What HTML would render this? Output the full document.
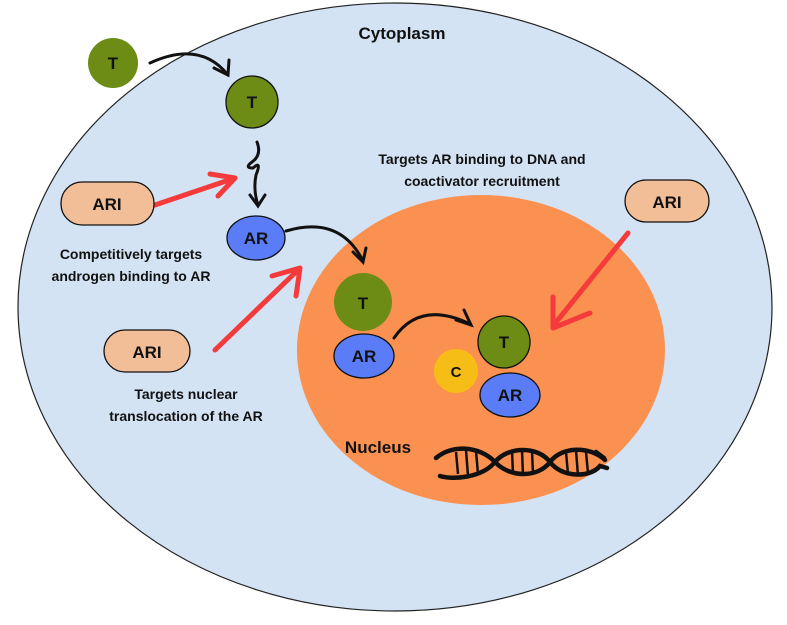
<!DOCTYPE html>
<html><head><style>body{margin:0;background:#fff}svg{display:block}text{font-family:"Liberation Sans",sans-serif;font-weight:bold;fill:#111}</style></head>
<body>
<svg width="787" height="625" viewBox="0 0 787 625">
<ellipse cx="395" cy="307" rx="377" ry="304" fill="#d3e3f3" stroke="#222" stroke-width="1.2"/>
<ellipse cx="481" cy="350" rx="184" ry="155" fill="#fb9150"/>
<text x="402" y="39" font-size="17" text-anchor="middle">Cytoplasm</text>
<text x="482" y="164" font-size="14" text-anchor="middle">Targets AR binding to DNA and</text>
<text x="482" y="186" font-size="14" text-anchor="middle">coactivator recruitment</text>
<text x="131" y="259" font-size="14" text-anchor="middle">Competitively targets</text>
<text x="131" y="281" font-size="14" text-anchor="middle">androgen binding to AR</text>
<text x="186" y="399" font-size="14" text-anchor="middle">Targets nuclear</text>
<text x="186" y="421" font-size="14" text-anchor="middle">translocation of the AR</text>
<text x="378" y="453" font-size="17" text-anchor="middle">Nucleus</text>
<g fill="none" stroke="#111" stroke-width="3" stroke-linecap="round">
<path d="M150 63 Q200 40 228 75"/><path d="M214 68 L228 75 L229 60"/>
<path d="M257 142 Q262 155 252 162 Q244 168 253 168 Q262 160 256 175 Q253 190 258 205"/><path d="M250 195 L258 206 L265 195"/>
<path d="M286 231 Q340 215 363 261"/><path d="M353 252 L363 262 L366 248"/>
<path d="M394 338 Q420 300 470 324"/><path d="M456 320 L471 325 L464 310"/>
</g>
<g fill="none" stroke="#f43a3a" stroke-width="5" stroke-linecap="round" stroke-linejoin="round">
<path d="M155 205 L235 178"/><path d="M210 174 L235 178 L218 196"/>
<path d="M215 350 L298 270"/><path d="M272 276 L300 268 L296 296"/>
<path d="M628 233 L553 326"/><path d="M553 297 L553 328 L590 313"/>
</g>
<g stroke="#111" stroke-width="1.3">
<circle cx="113" cy="63" r="25" fill="#6c8c16" stroke="none"/>
<circle cx="252" cy="102" r="26" fill="#6c8c16"/>
<ellipse cx="256" cy="238" rx="29" ry="22" fill="#5b7cf7"/>
<rect x="61" y="182" width="93" height="43" rx="21" fill="#f2be98"/>
<rect x="625" y="180" width="84" height="42" rx="21" fill="#f2be98"/>
<rect x="104" y="330" width="86" height="42" rx="21" fill="#f2be98"/>
<circle cx="363" cy="302" r="29" fill="#6c8c16" stroke="none"/>
<ellipse cx="364" cy="356" rx="30" ry="22" fill="#5b7cf7"/>
<circle cx="504" cy="342" r="26" fill="#6c8c16"/>
<ellipse cx="510" cy="395" rx="30" ry="22" fill="#5b7cf7"/>
<circle cx="456" cy="371" r="22" fill="#f7bd17" stroke="none"/>
</g>
<g font-size="17" text-anchor="middle">
<text x="113" y="69">T</text><text x="252" y="108">T</text><text x="256" y="244">AR</text>
<text x="107" y="210">ARI</text><text x="667" y="208">ARI</text><text x="147" y="358">ARI</text>
<text x="363" y="309">T</text><text x="364" y="362">AR</text><text x="504" y="348">T</text><text x="510" y="401">AR</text>
<text x="456" y="377" font-size="15">C</text>
</g>
<g fill="none" stroke="#111" stroke-width="4.5" stroke-linecap="round">
<path d="M436 458 C452 444 480 446 495 462 C510 478 538 478 550 462 C562 446 590 446 605 460"/>
<path d="M440 476 C452 480 482 478 495 462 C508 446 538 446 550 462 C562 478 590 478 600 466 L607 468"/>
<line x1="596" y1="452" x2="604" y2="458"/>
</g>
<g stroke="#111" stroke-width="2.5">
<line x1="456" y1="452" x2="458" y2="474"/><line x1="466" y1="450" x2="468" y2="476"/><line x1="476" y1="451" x2="478" y2="474"/>
<line x1="512" y1="451" x2="513" y2="474"/><line x1="522" y1="450" x2="523" y2="476"/><line x1="532" y1="451" x2="533" y2="474"/>
<line x1="566" y1="452" x2="568" y2="474"/><line x1="576" y1="450" x2="578" y2="476"/><line x1="586" y1="452" x2="588" y2="473"/>
</g>
</svg>
</body></html>
